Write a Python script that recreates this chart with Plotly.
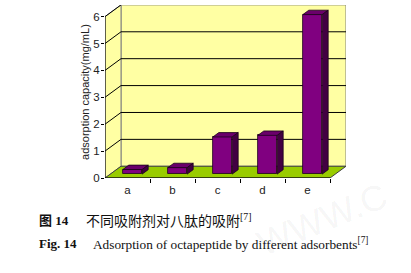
import plotly.graph_objects as go

# ---- data ----
categories = ["a", "b", "c", "d", "e"]
values = [0.17, 0.24, 1.38, 1.44, 5.93]
y_ticks = [0, 1, 2, 3, 4, 5, 6]
y_title = "adsorption capacity(mg/mL)"
cap_cn_label = "图 14"
cap_cn_text = "不同吸附剂对八肽的吸附<sup>[7]</sup>"
cap_en_label = "Fig. 14"
cap_en_text = "Adsorption of octapeptide by different adsorbents<sup>[7]</sup>"
watermark = "WWW.C"

# ---- geometry / style ----
W, H = 411, 273
X0PX, UX = 105, 45.0          # left front edge px, px per category
Y0PX, UY = 182, 27.5          # front baseline px, px per unit
DX, DY = 16 / UX, 12 / UY     # wall depth in data units
BW = 0.43
SX, SY = 5 / UX, 4 / UY       # bar front offset into depth
BDX, BDY = 6 / UX, 4.5 / UY   # bar depth
YMAX = max(y_ticks)
n = len(categories)
xl, xr = -0.5, n - 0.5

WALL = "#FFFFA3"
FLOOR = "#99CC00"
FRONT = "#800080"
TOP = "#6A006A"
SIDE = "#420042"
EDGE = "#1a001a"

fig = go.Figure()

def poly(pts):
    return "M " + " L ".join(f"{x},{y}" for x, y in pts) + " Z"

shapes = []
shapes.append(dict(type="path", xref="x", yref="y", layer="below",
                   path=poly([(xl + DX, DY), (xr + DX, DY), (xr + DX, YMAX + DY), (xl + DX, YMAX + DY)]),
                   fillcolor=WALL, line=dict(color="#808080", width=1)))
shapes.append(dict(type="path", xref="x", yref="y", layer="below",
                   path=poly([(xl, 0), (xl + DX, DY), (xl + DX, YMAX + DY), (xl, YMAX)]),
                   fillcolor=WALL, line=dict(color="#808080", width=1)))
shapes.append(dict(type="path", xref="x", yref="y", layer="below",
                   path=poly([(xl, 0), (xr, 0), (xr + DX, DY), (xl + DX, DY)]),
                   fillcolor=FLOOR, line=dict(color="#404040", width=1)))
for k in y_ticks[1:-1]:
    shapes.append(dict(type="line", xref="x", yref="y", layer="below",
                       x0=xl + DX, x1=xr + DX, y0=k + DY, y1=k + DY,
                       line=dict(color="#000000", width=1)))
for k in y_ticks[1:]:
    shapes.append(dict(type="line", xref="x", yref="y", layer="below",
                       x0=xl, x1=xl + DX, y0=k, y1=k + DY,
                       line=dict(color="#000000", width=1)))
shapes.append(dict(type="line", xref="x", yref="y", x0=xl, x1=xl, y0=0, y1=YMAX,
                   line=dict(color="#000000", width=1)))
shapes.append(dict(type="line", xref="x", yref="y", x0=xl, x1=xr, y0=0, y1=0,
                   line=dict(color="#000000", width=1)))

xs = list(range(n))
fig.add_trace(go.Bar(x=[i + SX for i in xs], y=values, base=SY, width=BW,
                     marker=dict(color=FRONT, line=dict(color=EDGE, width=0.8)),
                     hoverinfo="skip"))
for i, v in zip(xs, values):
    x0 = i + SX - BW / 2
    x1 = i + SX + BW / 2
    top = SY + v
    tx = [x0, x1, x1 + BDX, x0 + BDX, x0]
    ty = [top, top, top + BDY, top + BDY, top]
    fig.add_trace(go.Scatter(x=tx, y=ty, fill="toself", fillcolor=TOP, mode="lines",
                             line=dict(color=EDGE, width=0.8), hoverinfo="skip"))
    sx = [x1, x1 + BDX, x1 + BDX, x1, x1]
    sy = [SY, SY + BDY, top + BDY, top, SY]
    fig.add_trace(go.Scatter(x=sx, y=sy, fill="toself", fillcolor=SIDE, mode="lines",
                             line=dict(color=EDGE, width=0.8), hoverinfo="skip"))

xd0 = X0PX / W
xd1 = (X0PX + UX * (n + DX)) / W
yd0 = (H - Y0PX) / H
yd1 = (H - Y0PX + UY * (YMAX + DY)) / H

ann = []
ann.append(dict(text=watermark, xref="paper", yref="paper", x=322 / W, y=(H - 224) / H,
                textangle=-22, showarrow=False, xanchor="center", yanchor="middle",
                font=dict(family="Liberation Sans", size=36, color="rgba(0,0,0,0.05)")))
ann.append(dict(text=y_title, xref="paper", yref="paper", x=85 / W, y=(H - 94) / H,
                textangle=-90, showarrow=False, xanchor="center", yanchor="middle",
                font=dict(family="Liberation Sans, Arial", size=11, color="#222222")))
serif = "Liberation Serif, Times New Roman, serif"
cjk = "Liberation Serif, Noto Sans CJK SC"
ann.append(dict(text=f"<b>{cap_cn_label}</b>", xref="paper", yref="paper", x=37 / W, y=(H - 225) / H,
                showarrow=False, xanchor="left", yanchor="middle",
                font=dict(family=cjk, size=13, color="#111111")))
ann.append(dict(text=cap_cn_text, xref="paper", yref="paper", x=84 / W, y=(H - 225) / H,
                showarrow=False, xanchor="left", yanchor="middle",
                font=dict(family=cjk, size=14, color="#111111")))
ann.append(dict(text=f"<b>{cap_en_label}</b>", xref="paper", yref="paper", x=37 / W, y=(H - 249) / H,
                showarrow=False, xanchor="left", yanchor="middle",
                font=dict(family=serif, size=13, color="#111111")))
ann.append(dict(text=cap_en_text, xref="paper", yref="paper", x=91 / W, y=(H - 249) / H,
                showarrow=False, xanchor="left", yanchor="middle",
                font=dict(family=serif, size=13.3, color="#111111")))

fig.update_layout(
    width=W, height=H, margin=dict(l=0, r=0, t=0, b=0),
    paper_bgcolor="white", plot_bgcolor="white", showlegend=False,
    bargap=0,
    xaxis=dict(domain=[xd0, xd1], range=[xl, xr + DX], showgrid=False, zeroline=False,
               showline=False, tickmode="array", tickvals=xs, ticktext=categories,
               ticks="", ticklabelstandoff=3,
               tickfont=dict(family="Liberation Sans, Arial", size=11.5, color="#222222"),
               minor=dict(tickmode="array", tickvals=[i + 0.5 for i in xs], ticks="outside",
                          ticklen=4, tickcolor="#000000", showgrid=False),
               fixedrange=True),
    yaxis=dict(domain=[yd0, yd1], range=[0, YMAX + DY], showgrid=False, zeroline=False,
               showline=False, tickmode="array", tickvals=y_ticks, ticks="outside",
               ticklen=3, tickcolor="#000000", ticklabelstandoff=-1,
               tickfont=dict(family="Liberation Sans, Arial", size=11.5, color="#222222"),
               fixedrange=True),
    shapes=shapes, annotations=ann,
)

fig.write_html("out.html")
